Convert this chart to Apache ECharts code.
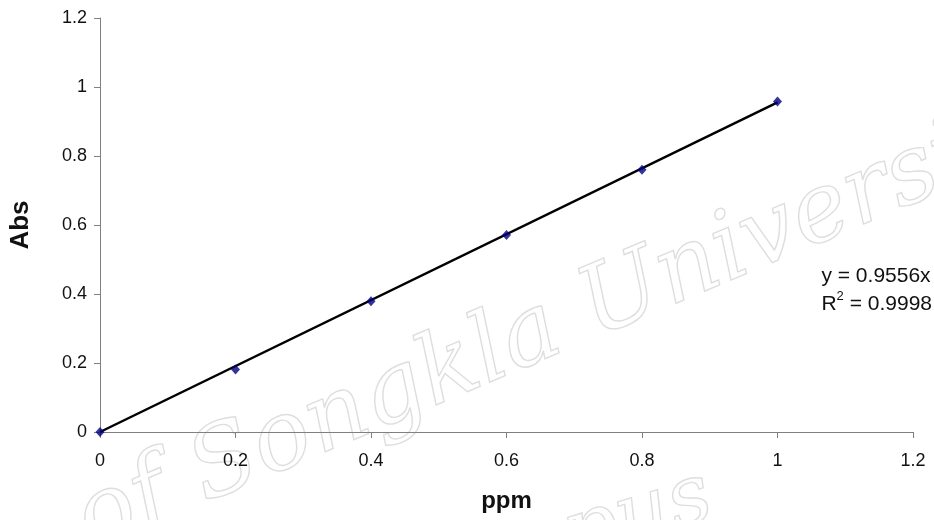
<!DOCTYPE html>
<html>
<head>
<meta charset="utf-8">
<script src="https://cdn.jsdelivr.net/npm/echarts@6/dist/echarts.min.js"></script>
<style>
  html, body { margin: 0; padding: 0; background: #fff; }
  #chart { width: 934px; height: 520px; }
</style>
</head>
<body>
<div id="chart"></div>
<script>
// Calibration standards: concentration (ppm) vs absorbance
const ppm = [0, 0.2, 0.4, 0.6, 0.8, 1.0];
const abs = [0, 0.181, 0.379, 0.571, 0.760, 0.958];

// Linear fit through the origin
const slope = 0.9556;
const rSquared = 0.9998;
const fitRange = [0, 1.0];

const axisTicks = [0, 0.2, 0.4, 0.6, 0.8, 1, 1.2];

const points = ppm.map((x, i) => [x, abs[i]]);
const fitLine = fitRange.map(x => [x, slope * x]);

const font = '"Liberation Sans", Arial, sans-serif';
const chart = echarts.init(document.getElementById('chart'));

chart.setOption({
  backgroundColor: '#ffffff',
  animation: false,
  grid: { left: 99, right: 21, top: 18, bottom: 88 },
  xAxis: {
    type: 'value',
    min: axisTicks[0],
    max: axisTicks[axisTicks.length - 1],
    interval: 0.2,
    name: 'ppm',
    nameLocation: 'middle',
    nameGap: 57,
    nameTextStyle: { fontFamily: font, fontWeight: 'bold', fontSize: 24, color: '#111' },
    axisLine: { lineStyle: { color: '#808080', width: 1 } },
    axisTick: { show: true, length: 6, lineStyle: { color: '#808080' } },
    splitLine: { show: false },
    axisLabel: {
      fontFamily: font, fontSize: 18, color: '#111', margin: 20,
      formatter: v => String(+v.toFixed(1))
    }
  },
  yAxis: {
    type: 'value',
    min: axisTicks[0],
    max: axisTicks[axisTicks.length - 1],
    interval: 0.2,
    name: 'Abs',
    nameLocation: 'middle',
    nameGap: 66,
    nameRotate: 90,
    nameTextStyle: { fontFamily: font, fontWeight: 'bold', fontSize: 26, color: '#111' },
    axisLine: { show: true, lineStyle: { color: '#808080', width: 1 } },
    axisTick: { show: true, length: 6, lineStyle: { color: '#808080' } },
    splitLine: { show: false },
    axisLabel: {
      fontFamily: font, fontSize: 18, color: '#111', margin: 13,
      formatter: v => String(+v.toFixed(1))
    }
  },
  graphic: [
    // faint outlined watermark across the lower part of the chart
    {
      type: 'text', z: -10, silent: true,
      x: 100, y: 572, rotation: 0.40,
      style: {
        text: 'of Songkla University',
        font: 'italic 96px "DejaVu Serif", serif',
        fill: 'rgba(255,255,255,0)', stroke: '#dedede', lineWidth: 1.4,
        textVerticalAlign: 'bottom'
      }
    },
    {
      type: 'text', z: -10, silent: true,
      x: 80, y: 735, rotation: 0.30,
      style: {
        text: 'Pattani Campus',
        font: 'italic 84px "DejaVu Serif", serif',
        fill: 'rgba(255,255,255,0)', stroke: '#dedede', lineWidth: 1.4,
        textVerticalAlign: 'bottom'
      }
    },
    // trendline equation
    {
      type: 'text', right: 2, top: 262,
      style: {
        text: 'y = ' + slope.toFixed(4) + 'x\n{r|R}{sup|2}{r| = ' + rSquared.toFixed(4) + '}',
        font: '21px ' + font,
        fill: '#111',
        textAlign: 'left',
        lineHeight: 28,
        rich: {
          r: { fontFamily: font, fontSize: 21, color: '#111' },
          sup: { fontFamily: font, fontSize: 13, color: '#111', verticalAlign: 'top', padding: [0, 0, 9, 0] }
        }
      }
    }
  ],
  series: [
    {
      name: 'Linear fit',
      type: 'line',
      data: fitLine,
      symbol: 'none',
      lineStyle: { color: '#000', width: 2.5 },
      z: 2
    },
    {
      name: 'Abs',
      type: 'scatter',
      data: points,
      symbol: 'diamond',
      symbolSize: [9, 10],
      itemStyle: { color: '#000080' },
      z: 3
    }
  ]
});
</script>
</body>
</html>
